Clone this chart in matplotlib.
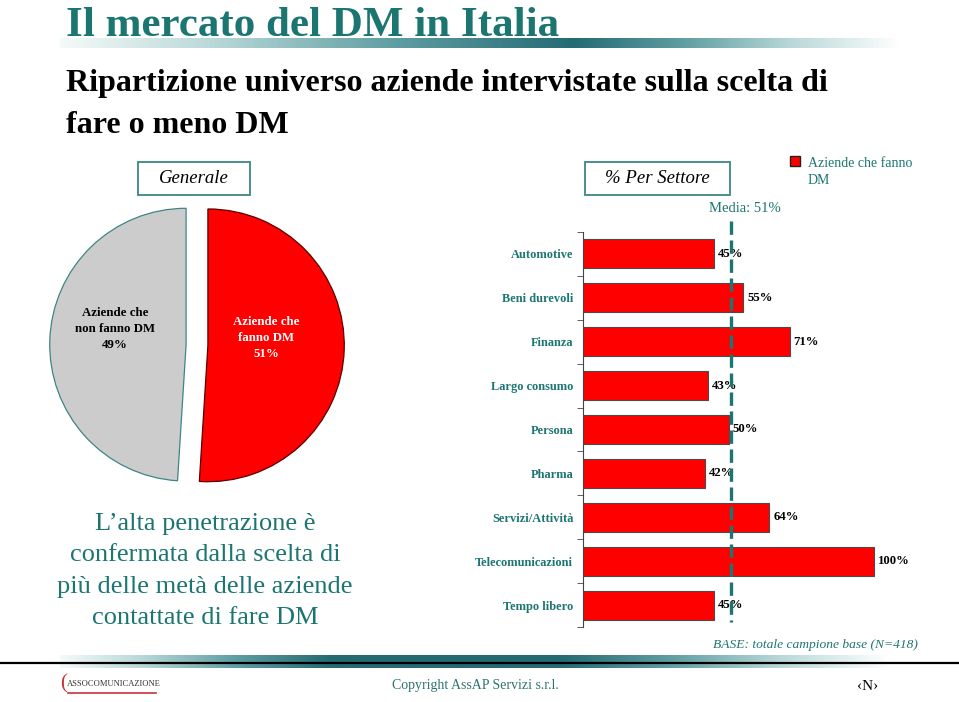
import numpy as np
import matplotlib.pyplot as plt
from matplotlib.colors import LinearSegmentedColormap
from matplotlib.patches import Rectangle
from matplotlib.lines import Line2D

W, H = 959, 702

# dati
sectors = ['Automotive', 'Beni durevoli', 'Finanza', 'Largo consumo', 'Persona',
           'Pharma', 'Servizi/Attività', 'Telecomunicazioni', 'Tempo libero']
share_dm = [45, 55, 71, 43, 50, 42, 64, 100, 45]
media = 51

pie_values = [51, 49]
pie_labels = ['Aziende che\nfanno DM\n51%', 'Aziende che\nnon fanno DM\n49%']

TEAL = '#1b7571'
RED = '#ff0000'
SERIF = 'Liberation Serif'
plt.rcParams['font.family'] = SERIF


def fx(x):
    return x / W


def fy(y):
    return 1 - y / H


def axes_px(fig, x0, y0, x1, y1):
    return fig.add_axes([x0 / W, 1 - y1 / H, (x1 - x0) / W, (y1 - y0) / H])


grad_cmap = LinearSegmentedColormap.from_list('tl', ['#ffffff', '#b9d8d8', '#5f9ea2', '#246b74'])


def gradient_bar(fig, x0, x1, y0, y1, knots, levels):
    ax = axes_px(fig, x0, y0, x1, y1)
    xs = np.linspace(x0, x1, 500)
    g = np.interp(xs, knots, levels)[None, :]
    ax.imshow(g, aspect='auto', cmap=grad_cmap, vmin=0, vmax=1, extent=(0, 1, 0, 1))
    ax.set_axis_off()
    return ax


def box(fig, x0, y0, x1, y1, text):
    fig.patches.append(Rectangle((fx(x0), fy(y1)), (x1 - x0) / W, (y1 - y0) / H,
                                 transform=fig.transFigure, facecolor='white',
                                 edgecolor='#3d8884', linewidth=1.3))
    fig.text(fx((x0 + x1) / 2), fy((y0 + y1) / 2), text, ha='center', va='center',
             fontsize=13.5, style='italic', color='black')


def main():
    fig = plt.figure(figsize=(W / 100, H / 100), dpi=100)

    # intestazione
    fig.text(fx(66), fy(36), 'Il mercato del DM in Italia', fontsize=31,
             fontweight='bold', color=TEAL, va='baseline')
    gradient_bar(fig, 60, 900, 38, 48, [60, 574, 900], [0.05, 1.0, 0.0])

    fig.text(fx(66), fy(91), 'Ripartizione universo aziende intervistate sulla scelta di',
             fontsize=23, fontweight='bold', color='black', va='baseline')
    fig.text(fx(66), fy(133), 'fare o meno DM',
             fontsize=23, fontweight='bold', color='black', va='baseline')

    box(fig, 138, 162, 250, 195, 'Generale')
    box(fig, 585, 162, 730, 195, '% Per Settore')

    # legenda
    fig.patches.append(Rectangle((fx(790), fy(166)), 10 / W, 10 / H,
                                 transform=fig.transFigure, facecolor=RED,
                                 edgecolor='#222222', linewidth=1))
    fig.text(fx(808), fy(157), 'Aziende che fanno\nDM', fontsize=10, color=TEAL,
             va='top', ha='left', linespacing=1.45)

    fig.text(fx(745), fy(208), 'Media: %d%%' % media, fontsize=10.5, color=TEAL,
             ha='center', va='center')

    # torta
    ax_pie = axes_px(fig, 47, 195, 347, 495)
    wedges, _ = ax_pie.pie(pie_values, colors=[RED, '#cccccc'], startangle=90,
                           counterclock=False, explode=[0.08, 0.08],
                           wedgeprops=dict(linewidth=0.9))
    wedges[0].set_edgecolor('#5a0000')
    wedges[1].set_edgecolor('#3f8585')
    ax_pie.set_xlim(-1.1, 1.1)
    ax_pie.set_ylim(-1.1, 1.1)
    ax_pie.set_aspect('equal')
    ax_pie.text(0.51, 0.05, pie_labels[0], ha='center', va='center', color='white',
                fontsize=9.3, fontweight='bold', linespacing=1.45)
    ax_pie.text(-0.6, 0.12, pie_labels[1], ha='center', va='center', color='black',
                fontsize=9.3, fontweight='bold', linespacing=1.45)

    fig.text(fx(205), fy(571),
             'L\u2019alta penetrazione è\nconfermata dalla scelta di\n'
             'più delle metà delle aziende\ncontattate di fare DM',
             ha='center', va='center', fontsize=19, color=TEAL, linespacing=1.55)

    # barre per settore
    ax = axes_px(fig, 583, 232, 583 + 291 * 1.2, 627)
    y = np.arange(len(sectors))
    ax.barh(y, share_dm, height=0.66, color=RED, edgecolor='#4a4a4a', linewidth=0.8)
    for i, v in enumerate(share_dm):
        ax.text(v + 1.4, i, '%d%%' % v, ha='left', va='center', fontsize=9.2,
                fontweight='bold', color='black')
    ax.plot([media, media], [-0.75, 8.38], color=TEAL, lw=2.4, dashes=(4, 1.7),
            clip_on=False, zorder=4)
    ax.set_xlim(0, 120)
    ax.set_ylim(len(sectors) - 0.5, -0.5)
    ax.set_yticks(y)
    ax.set_yticklabels(sectors, fontsize=8.9, fontweight='bold', color=TEAL)
    ax.set_yticks(np.arange(-0.5, len(sectors), 1.0), minor=True)
    ax.tick_params(axis='y', which='major', length=0, pad=7)
    ax.tick_params(axis='y', which='minor', length=4, direction='out', color='#444444')
    ax.set_xticks([])
    for s in ['top', 'right', 'bottom']:
        ax.spines[s].set_visible(False)
    ax.spines['left'].set_color('#444444')
    ax.patch.set_alpha(0)

    fig.text(fx(918), fy(645), 'BASE: totale campione base (N=418)', fontsize=9.7,
             style='italic', color=TEAL, ha='right', va='center')

    # pie di pagina
    gradient_bar(fig, 60, 890, 655, 668, [60, 330, 560, 890], [0.05, 1.0, 1.0, 0.0])
    fig.lines.append(Line2D([0, 1], [fy(663), fy(663)], transform=fig.transFigure,
                            color='black', lw=1.6))
    fig.text(fx(475), fy(686), 'Copyright AssAP Servizi s.r.l.', fontsize=10,
             color='#2c7470', ha='center', va='center')
    fig.text(fx(868), fy(686), '\u2039N\u203a', fontsize=11, color='black',
             ha='center', va='center')
    fig.text(fx(60), fy(684), '(', fontsize=15, color='#c8323c', ha='left', va='center')
    fig.text(fx(67), fy(684), 'ASSOCOMUNICAZIONE', fontsize=6.1, color='#333333',
             ha='left', va='center')
    fig.lines.append(Line2D([fx(68), fx(156)], [fy(693), fy(693)],
                            transform=fig.transFigure, color='#c8323c', lw=1.2))

    fig.savefig('out.png', dpi=100)


if __name__ == '__main__':
    main()
